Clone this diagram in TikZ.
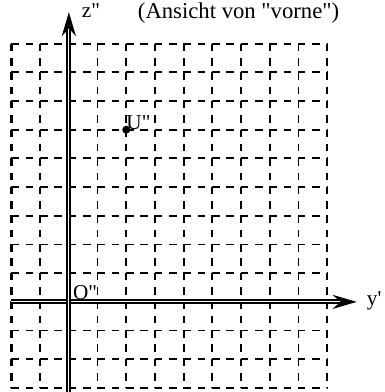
\documentclass[tikz,border=0pt]{standalone}
\usepackage{fontspec}
\newfontfamily\lbl{Liberation Serif}
\usetikzlibrary{arrows.meta}
\tikzset{
  gridline/.style={draw=black, line width=1.8pt, dash pattern=on 7.5pt off 6.7pt},
  borderline/.style={gridline, line width=2.6pt},
  axisline/.style={draw=black, line width=2pt, double=white, double distance=0.8pt,
    -{Stealth[length=24pt, width=14pt, inset=8pt]}},
  axislabel/.style={font=\lbl\fontsize{21}{24}\selectfont, inner sep=0pt},
  pointdot/.style={circle, fill=black, inner sep=0pt, minimum size=8pt}
}

\begin{document}
\begin{tikzpicture}
  \useasboundingbox (-2.40,-3.14) rectangle (11.01,10.52);

  % dashed grid
  \foreach \y in {-3,...,9}
    \draw[gridline] (-2,\y) -- (9,\y);
  \foreach \x in {-1,1,2,...,8}
    \draw[gridline] (\x,9) -- (\x,-3);
  \foreach \x in {-2,9}
    \draw[borderline] (\x,9) -- (\x,-3);

  % axes
  \coordinate (O) at (0,0);
  \coordinate (ytail) at (-2,0);
  \coordinate (yhead) at (10.03,0);
  \coordinate (ztail) at (0,-3.14);
  \coordinate (zhead) at (0,10.1);
  \draw[axisline] (ytail) -- (yhead);
  \draw[axisline] (ztail) -- (zhead);

  % labels
  \node[axislabel, anchor=base west] (zlbl) at (0.45,9.9) {z"};
  \node[axislabel, anchor=base west] (ylbl) at (10.38,-0.14) {y'};
  \node[axislabel, anchor=base west] (Olbl) at (0.14,0.07) {O"};
  \node[axislabel, anchor=base west, font=\lbl\fontsize{22.5}{26}\selectfont] (title) at (2.40,9.88) {(Ansicht von "vorne")};

  % point U
  \node[pointdot] (U) at (2,6) {};
  \node[axislabel, anchor=base west] (Ulbl) at (2.0,6.02) {U"};
\end{tikzpicture}
\end{document}
